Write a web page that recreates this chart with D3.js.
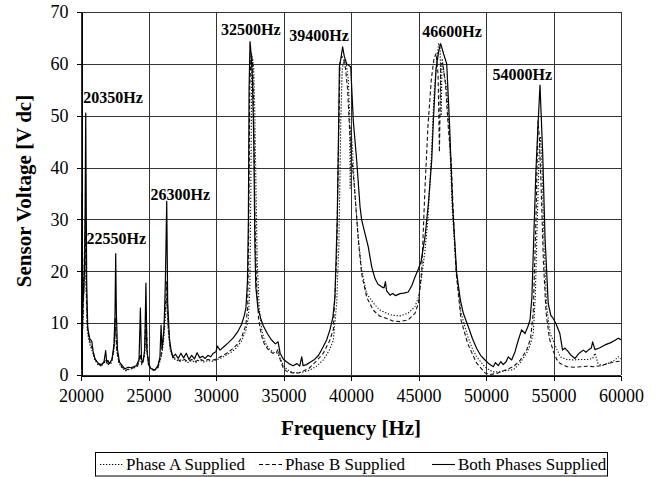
<!DOCTYPE html>
<html lang="en">
<head>
  <meta charset="utf-8">
  <title>Sensor Voltage vs Frequency</title>
  <script src="https://d3js.org/d3.v7.min.js"></script>
  <style>
    body { margin: 0; background: #fff; }
    svg text { font-family: "Liberation Serif", Tinos, "Times New Roman", Times, serif; fill: #000; }
    .grid line { stroke: #333; stroke-width: 1; shape-rendering: crispEdges; }
    .axis path, .axis line { stroke: #000; shape-rendering: crispEdges; }
    .axis text { font-size: 18px; }
    .peak { font-size: 16px; font-weight: bold; }
    .title { font-size: 21px; font-weight: bold; }
    .legend text { font-size: 17px; }
    .series { fill: none; stroke-linejoin: round; }
  </style>
</head>
<body>
<div id="chart"></div>
<script>
"use strict"

var xTicks = [20000, 25000, 30000, 35000, 40000, 45000, 50000, 55000, 60000];
var yTicks = [0, 10, 20, 30, 40, 50, 60, 70];

// [frequency Hz, voltage V dc]
var phaseA = [
  [20000, 0.5], [20040, 6], [20090, 17], [20140, 9], [20220, 18], [20300, 27], [20380, 16], [20450, 9],
  [20550, 7], [20700, 5.5], [20850, 4.5], [21000, 3], [21250, 2], [21500, 1.7], [21800, 2.6], [22000, 2],
  [22250, 2.3], [22430, 4.5], [22540, 9], [22650, 4.5], [22800, 2.4], [23000, 1.5], [23300, 0.8], [23600, 1.1],
  [23900, 1.3], [24200, 1.7], [24380, 3.5], [24500, 2], [24700, 3.5], [24800, 9], [24920, 3.5], [25100, 1.4],
  [25400, 0.8], [25700, 1.4], [25950, 3.5], [26100, 6], [26250, 11], [26350, 15], [26450, 9], [26600, 5],
  [26800, 3.2], [27000, 3], [27300, 2.6], [27600, 2.9], [27900, 2.4], [28200, 2.8], [28500, 2.4], [28800, 2.9],
  [29100, 2.5], [29400, 2.8], [29700, 2.6], [30000, 2.9], [30400, 3.3], [30800, 3.9], [31200, 4.5], [31600, 5.5],
  [31900, 6.6], [32200, 8.5], [32400, 11], [32500, 16], [32580, 35], [32640, 58], [32720, 61], [32800, 59],
  [32880, 50], [32960, 36], [33050, 22], [33200, 13], [33400, 8.5], [33650, 6.2], [33950, 5], [34250, 4.4],
  [34550, 4.2], [34750, 3.2], [35000, 1.8], [35300, 1], [35700, 0.5], [36100, 0.4], [36500, 0.6], [36900, 0.9],
  [37400, 1.6], [37950, 2.9], [38400, 4.8], [38690, 6.7], [38940, 13.8], [39100, 25], [39250, 50], [39350, 59],
  [39500, 61], [39650, 60], [39800, 57], [39900, 50], [39940, 36], [40000, 48], [40100, 44], [40290, 35],
  [40540, 26.6], [40790, 20.2], [41160, 15.7], [41650, 13.9], [42100, 12.6], [42640, 11.9], [43100, 11.5], [43630, 11.4],
  [44220, 11.9], [44740, 13.2], [45000, 15], [45240, 19], [45480, 24], [45700, 30], [45950, 42], [46150, 54],
  [46350, 61], [46500, 64], [46600, 63], [46680, 50], [46750, 61], [46900, 58], [47100, 55], [47300, 46],
  [47500, 32], [47800, 20], [48150, 12], [48640, 7.5], [49000, 5], [49310, 3.5], [49930, 1.5], [50500, 0.6],
  [51000, 0.6], [51500, 0.9], [52020, 1], [52500, 2.2], [53010, 4.2], [53300, 6], [53500, 8], [53650, 15],
  [53800, 30], [53950, 44], [54050, 46], [54150, 40], [54300, 25], [54500, 13], [54750, 8], [55000, 6.5],
  [55240, 5], [55500, 3.5], [56000, 3], [56500, 2.9], [57000, 3], [57500, 3], [57900, 3.2], [58070, 4.2],
  [58300, 2.2], [58600, 1.8], [59000, 2.2], [59500, 2.8], [59800, 3.5], [60000, 3.1]
];

var phaseB = [
  [20000, 1], [20040, 8], [20090, 20], [20150, 11], [20230, 20], [20310, 30], [20390, 17], [20460, 10],
  [20560, 7.5], [20700, 6], [20850, 5], [21000, 3.3], [21250, 2.2], [21500, 1.8], [21800, 2.8], [22000, 2.2],
  [22250, 2.5], [22430, 5], [22550, 11], [22650, 5], [22800, 2.6], [23000, 1.6], [23300, 0.9], [23600, 1.2],
  [23900, 1.4], [24200, 1.8], [24390, 4], [24500, 2.2], [24700, 4], [24810, 12], [24920, 4], [25100, 1.5],
  [25400, 0.9], [25700, 1.5], [25950, 4], [26100, 7], [26250, 13], [26350, 18], [26450, 10], [26600, 5.5],
  [26800, 3.4], [27000, 3.2], [27300, 2.8], [27600, 3.1], [27900, 2.6], [28200, 3], [28500, 2.6], [28800, 3.1],
  [29100, 2.7], [29400, 3], [29700, 2.8], [30000, 3.1], [30400, 3.6], [30800, 4.2], [31200, 5], [31600, 6],
  [31900, 7.3], [32200, 9.5], [32350, 13], [32430, 30], [32500, 55], [32580, 61], [32650, 62], [32740, 58],
  [32820, 45], [32900, 28], [33000, 18], [33150, 11], [33350, 7.8], [33600, 5.8], [33900, 4.8], [34200, 4.2],
  [34450, 4.2], [34600, 5], [34750, 3], [35000, 1.2], [35300, 0.6], [35700, 0.4], [36100, 0.4], [36500, 0.8],
  [36900, 1.3], [37400, 2.6], [37950, 4.2], [38400, 6.5], [38690, 8.7], [38940, 23], [39080, 45], [39180, 60],
  [39300, 61.5], [39450, 61], [39600, 59], [39750, 55], [39900, 47], [40050, 42], [40290, 35], [40540, 26],
  [40790, 19.5], [41160, 15], [41650, 12.5], [42100, 11.4], [42640, 10.9], [43100, 10.4], [43630, 10.3], [44220, 10.6],
  [44740, 11.9], [45000, 13.9], [45240, 20.2], [45480, 36], [45700, 48], [45950, 57], [46150, 61], [46300, 62],
  [46450, 58], [46550, 43], [46650, 60], [46800, 60], [47000, 56], [47200, 48], [47420, 41], [47600, 30],
  [47780, 20], [48150, 10.6], [48640, 6.1], [49000, 4], [49310, 2.3], [49930, 0.4], [50300, 0.1], [50800, 0.3],
  [51300, 0.8], [52020, 1.6], [52520, 2.8], [53010, 4.8], [53300, 7], [53500, 12], [53700, 30], [53850, 49],
  [53950, 46], [54100, 35], [54250, 22], [54450, 12], [54700, 7], [55000, 4.5], [55240, 3], [55500, 2.2],
  [56000, 1.6], [56500, 1.5], [57000, 1.6], [57500, 1.7], [58000, 1.6], [58500, 1.8], [59000, 2.2], [59500, 2.5],
  [60000, 2.7]
];

var bothPhases = [
  [20000, 1], [20030, 12], [20080, 35], [20130, 14], [20200, 16], [20280, 22], [20350, 50.5], [20420, 18],
  [20500, 9], [20650, 7], [20800, 6.5], [20900, 4.5], [21050, 3], [21300, 2.2], [21500, 2], [21700, 2.5],
  [21830, 4.7], [21900, 2.5], [22000, 2.8], [22100, 2.2], [22300, 3], [22450, 6], [22520, 12], [22570, 23.4],
  [22620, 12], [22700, 5], [22850, 2.5], [23000, 2], [23250, 1.2], [23500, 1.5], [23700, 1.4], [23900, 1.6],
  [24100, 1.8], [24300, 3], [24400, 12.9], [24480, 3], [24600, 2.5], [24720, 5], [24810, 17.7], [24880, 5],
  [25000, 2], [25200, 1.2], [25480, 1], [25700, 1.8], [25850, 3.5], [25930, 9.6], [26000, 5], [26150, 9],
  [26250, 18], [26350, 33.5], [26420, 14], [26550, 7], [26670, 4.8], [26800, 3.5], [27000, 4], [27200, 3.2],
  [27400, 4.2], [27600, 3.3], [27800, 4.2], [28000, 3], [28200, 3.8], [28400, 3.1], [28600, 4.3], [28800, 3.3],
  [29000, 3.6], [29200, 3.2], [29400, 3.8], [29600, 3.5], [29800, 4.2], [30000, 4.5], [30100, 5.6], [30300, 4.8],
  [30600, 5.5], [30900, 6.2], [31260, 7.1], [31600, 8.3], [31900, 9.8], [32100, 11.5], [32220, 13], [32330, 18],
  [32400, 30], [32450, 55], [32520, 64.3], [32600, 62], [32700, 57], [32800, 45], [32880, 25], [32950, 17],
  [33100, 13], [33300, 11], [33500, 9.5], [33800, 8], [34100, 6.8], [34400, 6], [34600, 6.4], [34750, 4.2],
  [35000, 3], [35400, 2.2], [35700, 1.8], [36000, 2.2], [36200, 1.7], [36350, 3.5], [36450, 1.8], [36700, 2],
  [37000, 2.5], [37300, 3], [37600, 3.8], [37950, 5.5], [38200, 6.8], [38440, 8.7], [38650, 11], [38810, 15],
  [38980, 30], [39090, 49], [39140, 59.4], [39250, 61], [39380, 63.3], [39500, 61.5], [39680, 60], [39980, 59.4],
  [40170, 49], [40420, 41.4], [40670, 32.4], [40790, 29.9], [40910, 28.6], [41280, 24.7], [41530, 20.9], [41780, 18.6],
  [42000, 17.5], [42270, 17], [42450, 16.8], [42550, 18], [42640, 16.2], [42890, 15.4], [43100, 15.7], [43300, 15.3],
  [43630, 15.7], [43900, 15.8], [44240, 16], [44500, 17.2], [44740, 18.9], [45000, 20.5], [45200, 22], [45500, 27],
  [45730, 33], [45980, 41.4], [46100, 49], [46300, 59], [46500, 62.5], [46640, 63.9], [46850, 62], [47090, 60],
  [47290, 49], [47530, 32.4], [47830, 19.6], [48100, 14.5], [48320, 11.9], [48690, 9.3], [49000, 7], [49310, 5.1],
  [49600, 3.8], [49930, 2.9], [50200, 2.2], [50540, 1.6], [50700, 2.4], [50910, 1.8], [51100, 2.6], [51280, 2],
  [51500, 2.6], [51650, 3.5], [51900, 2.9], [52150, 4.5], [52390, 6.7], [52640, 8.7], [52890, 8], [53100, 9.3],
  [53260, 10.6], [53400, 15], [53500, 23.4], [53700, 39.5], [53850, 48], [54000, 55.9], [54200, 42.7], [54370, 26.6],
  [54610, 13.8], [54800, 11.5], [54980, 10.9], [55200, 9.8], [55470, 8], [55670, 4.8], [55850, 5.2], [56090, 4.5],
  [56300, 3.8], [56590, 3.2], [56900, 4.2], [57210, 4.8], [57400, 4.4], [57580, 4.8], [57800, 5.2], [57900, 6.4],
  [58070, 4.9], [58400, 5.2], [58810, 5.8], [59200, 6.2], [59560, 6.7], [59800, 7.1], [60000, 6.8]
];

var peakNames = ["20350Hz", "22550Hz", "26300Hz", "32500Hz", "39400Hz", "46600Hz", "54000Hz"];
// label anchor (centre of text, baseline) in data units
var peakAnchors = [[22370, 52.4], [22615, 25.2], [27360, 33.7], [32580, 65.6], [37630, 64.5], [47490, 65.1], [52690, 56.8]];

var legendNames = ["Phase A Supplied", "Phase B Supplied", "Both Phases Supplied"];

function drawChart() {
  var width = 659, height = 477;
  var margin = { top: 12, right: 38, bottom: 102, left: 81 };
  var w = width - margin.left - margin.right;
  var h = height - margin.top - margin.bottom;
  var serif = '"Liberation Serif", Tinos, "Times New Roman", Times, serif';

  var svg = d3.select("#chart").append("svg")
    .attr("width", width)
    .attr("height", height)
    .attr("font-family", serif);

  var g = svg.append("g")
    .attr("transform", "translate(" + margin.left + "," + margin.top + ")");

  var x = d3.scaleLinear().domain([20000, 60000]).range([0, w]);
  var y = d3.scaleLinear().domain([0, 70]).range([h, 0]);

  // grid
  var grid = g.append("g").attr("class", "grid");
  grid.selectAll(".vx").data(xTicks).enter().append("line")
    .attr("x1", d => Math.round(x(d)) + 0.5).attr("x2", d => Math.round(x(d)) + 0.5)
    .attr("y1", 0).attr("y2", h);
  grid.selectAll(".hy").data(yTicks).enter().append("line")
    .attr("x1", 0).attr("x2", w)
    .attr("y1", d => Math.round(y(d)) + 0.5).attr("y2", d => Math.round(y(d)) + 0.5);

  // series
  var line = d3.line().x(d => x(d[0])).y(d => y(d[1]));

  svg.append("defs").append("clipPath").attr("id", "plotclip")
    .append("rect").attr("x", 0).attr("y", -6).attr("width", w).attr("height", h + 6);

  var plot = g.append("g").attr("clip-path", "url(#plotclip)");
  plot.append("path").datum(phaseA).attr("class", "series")
    .attr("d", line).attr("stroke", "#111").attr("stroke-width", 1.1).attr("stroke-dasharray", "1.3,1.7");
  plot.append("path").datum(phaseB).attr("class", "series")
    .attr("d", line).attr("stroke", "#111").attr("stroke-width", 1.1).attr("stroke-dasharray", "4,2.5");
  plot.append("path").datum(bothPhases).attr("class", "series")
    .attr("d", line).attr("stroke", "#000").attr("stroke-width", 1.2);

  // axes
  var xAxis = g.append("g").attr("class", "axis")
    .attr("transform", "translate(0," + (Math.round(h) + 0.5) + ")")
    .call(d3.axisBottom(x).tickValues(xTicks).tickSize(5).tickSizeOuter(0).tickPadding(9).tickFormat(d3.format("d")));
  var yAxis = g.append("g").attr("class", "axis")
    .attr("transform", "translate(0.5,0)")
    .call(d3.axisLeft(y).tickValues(yTicks).tickSize(5).tickSizeOuter(0).tickPadding(8));
  xAxis.attr("font-family", serif).attr("font-size", 18);
  yAxis.attr("font-family", serif).attr("font-size", 18);

  // peak labels
  g.selectAll(".peak").data(peakNames).enter().append("text")
    .attr("class", "peak")
    .attr("x", (d, i) => x(peakAnchors[i][0]))
    .attr("y", (d, i) => y(peakAnchors[i][1]))
    .attr("text-anchor", "middle")
    .text(d => d);

  // titles
  svg.append("text").attr("class", "title")
    .attr("x", margin.left + w / 2).attr("y", 435)
    .attr("text-anchor", "middle")
    .text("Frequency [Hz]");
  svg.append("text").attr("class", "title")
    .attr("transform", "translate(31," + 191 + ") rotate(-90)")
    .attr("text-anchor", "middle")
    .text("Sensor Voltage [V dc]");

  // legend
  var legend = svg.append("g").attr("class", "legend");
  legend.append("rect")
    .attr("x", 95.5).attr("y", 452.5).attr("width", 512).attr("height", 23.5)
    .attr("fill", "#fff").attr("stroke", "#000").attr("stroke-width", 1);
  var itemX = [100, 259, 432];
  var dashes = ["1.3,1.7", "4,2.5", null];
  legendNames.forEach(function (name, i) {
    legend.append("line")
      .attr("x1", itemX[i]).attr("x2", itemX[i] + 23)
      .attr("y1", 464.5).attr("y2", 464.5)
      .attr("stroke", "#000").attr("stroke-width", 1.1)
      .attr("stroke-dasharray", dashes[i]);
    legend.append("text")
      .attr("x", itemX[i] + 26).attr("y", 470)
      .text(name);
  });
}

drawChart();
</script>
</body>
</html>
